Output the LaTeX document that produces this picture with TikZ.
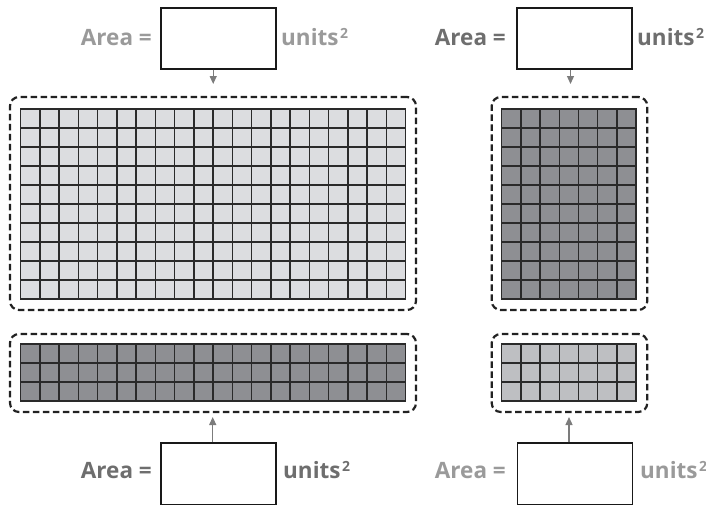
\documentclass[tikz,border=0pt]{standalone}
\usepackage{fontspec}
\setmainfont{Open Sans}
\usetikzlibrary{arrows.meta}
\definecolor{fillLight}{HTML}{DCDDE0}
\definecolor{fillDark}{HTML}{8E8F93}
\definecolor{fillMid}{HTML}{BEBFC2}
\definecolor{txtLight}{HTML}{9A9A9A}
\definecolor{txtDark}{HTML}{6E6E6E}
\definecolor{arrC}{HTML}{7C7C7C}
\definecolor{dashC}{HTML}{222222}
\definecolor{gridC}{HTML}{2A2A2A}
\newcommand\supx{\hspace{1.5pt}\raisebox{6.5pt}{\fontsize{14}{14}\selectfont 2}}
\newcommand\cellgrid[7]{%
  \fill[#7] (#1,#2) rectangle ({#1+#3*#5},{#2+#4*#6});
  \foreach \i in {0,...,#3} \draw[gridline] ({#1+\i*#5},#2) -- ({#1+\i*#5},{#2+#4*#6});
  \foreach \j in {0,...,#4} \draw[gridline] (#1,{#2+\j*#6}) -- ({#1+#3*#5},{#2+\j*#6});
}
\tikzset{
  lbl/.style={font=\fontsize{22.5}{24}\selectfont\bfseries, inner sep=0pt},
  ansbox/.style={draw=black!90, line width=1.1pt, minimum width=115pt, minimum height=61pt, inner sep=0pt},
  dashbox/.style={draw=dashC, line width=2.2pt, dash pattern=on 6.5pt off 3.5pt, rounded corners=9pt, inner sep=0pt},
  arr/.style={draw=arrC, line width=1.2pt, -{Triangle[length=8pt,width=7pt]}},
  gridline/.style={draw=gridC, line width=1.5pt, line cap=rect}
}
\begin{document}
\begin{tikzpicture}[x=1pt,y=-1pt]
\useasboundingbox (0,0) rectangle (706,504);
% grids
\cellgrid{20.7}{109}{20}{10}{19.25}{19}{fillLight}
\cellgrid{20.7}{344}{20}{3}{19.25}{19}{fillDark}
\cellgrid{501.7}{109}{7}{10}{19.2}{19}{fillDark}
\cellgrid{501.7}{344}{7}{3}{19.2}{19}{fillMid}
% dashed frames
\node[dashbox, minimum width=406pt, minimum height=213pt] (frTL) at (213,203.5) {};
\node[dashbox, minimum width=406pt, minimum height=78pt] (frBL) at (213,373) {};
\node[dashbox, minimum width=155.6pt, minimum height=213pt] (frTR) at (569.5,203.5) {};
\node[dashbox, minimum width=155.6pt, minimum height=78pt] (frBR) at (569.5,373) {};
% answer boxes and labels
\node[ansbox] (bTL) at (218.5,38.5) {};
\node[lbl, text=txtLight, anchor=base east] (aTL) at (152,45) {Area =};
\node[lbl, text=txtLight, anchor=base west] (uTL) at (281,45) {units\supx};
\node[ansbox] (bTR) at (574.5,38.5) {};
\node[lbl, text=txtDark, anchor=base east] (aTR) at (506,45) {Area =};
\node[lbl, text=txtDark, anchor=base west] (uTR) at (637,45) {units\supx};
\node[ansbox, minimum height=62pt] (bBL) at (218.5,474) {};
\node[lbl, text=txtDark, anchor=base east] (aBL) at (152,478) {Area =};
\node[lbl, text=txtDark, anchor=base west] (uBL) at (283,478) {units\supx};
\node[ansbox, minimum height=62pt] (bBR) at (575,474) {};
\node[lbl, text=txtLight, anchor=base east] (aBR) at (506,478) {Area =};
\node[lbl, text=txtLight, anchor=base west] (uBR) at (640,478) {units\supx};
% arrows
\coordinate (tTL) at (213.2,84);
\coordinate (tTR) at (570.5,84);
\coordinate (tBL) at (212.7,417);
\coordinate (tBR) at (569,417);
\draw[arr] (bTL.south -| tTL) -- (tTL);
\draw[arr] (bTR.south -| tTR) -- (tTR);
\draw[arr] (bBL.north -| tBL) -- (tBL);
\draw[arr] (bBR.north -| tBR) -- (tBR);
\end{tikzpicture}
\end{document}
